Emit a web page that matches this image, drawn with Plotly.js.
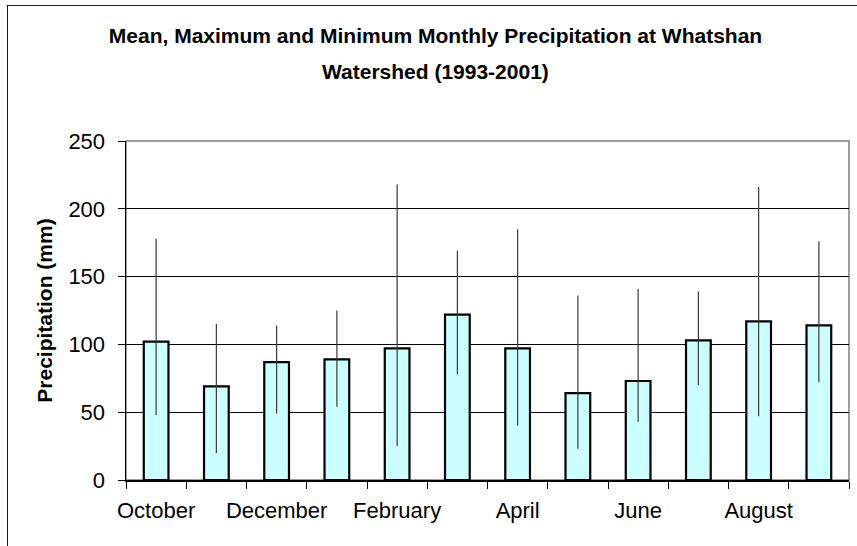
<!DOCTYPE html>
<html>
<head>
<meta charset="utf-8">
<script src="https://cdn.plot.ly/plotly-3.0.1.min.js"></script>
<style>
  html, body { margin: 0; padding: 0; background: #fff; }
  #wrap { position: relative; width: 857px; height: 546px; overflow: hidden; }
  #chart { position: absolute; left: 0; top: 0; width: 857px; height: 546px; }
  #frame { position: absolute; left: 7px; top: 5px; width: 900px; height: 600px;
           border-left: 1px solid #1a1a1a; border-top: 1.5px solid #1a1a1a; pointer-events: none; }
</style>
</head>
<body>
<div id="wrap">
  <div id="chart"></div>
  <div id="frame"></div>
</div>
<script>
// Data (mm)
const months = ['October','November','December','January','February','March',
                'April','May','June','July','August','September'];
const meanPrecip = [102, 69, 87, 89, 97, 122, 97, 64, 73, 103, 117, 114];
const maxPrecip  = [178, 115, 114, 125, 218, 169, 185, 136, 141, 139, 216, 176];
const minPrecip  = [48, 20, 49, 54, 25, 78, 40, 23, 43, 70, 47, 72];
const tickLabels = ['October','','December','','February','','April','','June','','August',''];
const yTicks = [0, 50, 100, 150, 200, 250];

const FONT = 'Liberation Sans, Arial, sans-serif';

const trace = {
  type: 'bar',
  x: months,
  y: meanPrecip,
  width: 0.41,
  marker: { color: '#CCFFFF', line: { color: '#000000', width: 2.2 } },
  error_y: {
    type: 'data',
    symmetric: false,
    array: maxPrecip.map((v, i) => v - meanPrecip[i]),
    arrayminus: meanPrecip.map((v, i) => v - minPrecip[i]),
    width: 0,
    thickness: 1.2,
    color: '#3a3a3a'
  },
  hoverinfo: 'skip'
};

const layout = {
  width: 857,
  height: 546,
  margin: { l: 126, r: 8, t: 141, b: 66 },
  paper_bgcolor: 'rgba(0,0,0,0)',
  plot_bgcolor: '#ffffff',
  showlegend: false,
  font: { family: FONT, color: '#000' },
  title: {
    text: '<b>Mean, Maximum and Minimum Monthly Precipitation at Whatshan</b>',
    font: { family: FONT, size: 21, color: '#000' },
    xref: 'container', yref: 'container',
    x: 435.5 / 857, xanchor: 'center',
    y: 1 - 36 / 546, yanchor: 'middle'
  },
  annotations: [{
    text: '<b>Watershed (1993-2001)</b>',
    xref: 'paper', yref: 'paper',
    x: (435.5 - 126) / 723, y: (480 - 72) / 339,
    xanchor: 'center', yanchor: 'middle',
    showarrow: false,
    font: { family: FONT, size: 21, color: '#000' }
  }],
  xaxis: {
    type: 'category',
    categoryorder: 'array',
    categoryarray: months,
    tickmode: 'array',
    tickvals: months,
    ticktext: tickLabels,
    tickson: 'boundaries',
    tickangle: 0,
    ticks: 'outside',
    ticklen: 7,
    tickwidth: 1,
    tickcolor: '#000',
    ticklabelstandoff: 10,
    showgrid: false,
    showline: true,
    linecolor: '#000',
    linewidth: 1.5,
    tickfont: { family: FONT, size: 22, color: '#000' },
    automargin: false,
    fixedrange: true
  },
  yaxis: {
    range: [0, 250],
    tickmode: 'array',
    tickvals: yTicks,
    ticks: 'outside',
    ticklen: 7,
    tickwidth: 1,
    tickcolor: '#000',
    ticklabelstandoff: 8,
    showgrid: true,
    gridcolor: '#000',
    gridwidth: 1,
    zeroline: false,
    showline: true,
    linecolor: '#000',
    linewidth: 1.5,
    tickfont: { family: FONT, size: 22, color: '#000' },
    title: {
      text: '<b>Precipitation (mm)</b>',
      font: { family: FONT, size: 21, color: '#000' },
      standoff: 10
    },
    automargin: false,
    fixedrange: true
  },
  shapes: [{
    type: 'rect', xref: 'paper', yref: 'paper', x0: 0, x1: 1, y0: 0, y1: 1,
    line: { color: '#808080', width: 1.5 }, layer: 'below'
  }]
};

Plotly.newPlot('chart', [trace], layout, { staticPlot: true, displayModeBar: false });
</script>
</body>
</html>
